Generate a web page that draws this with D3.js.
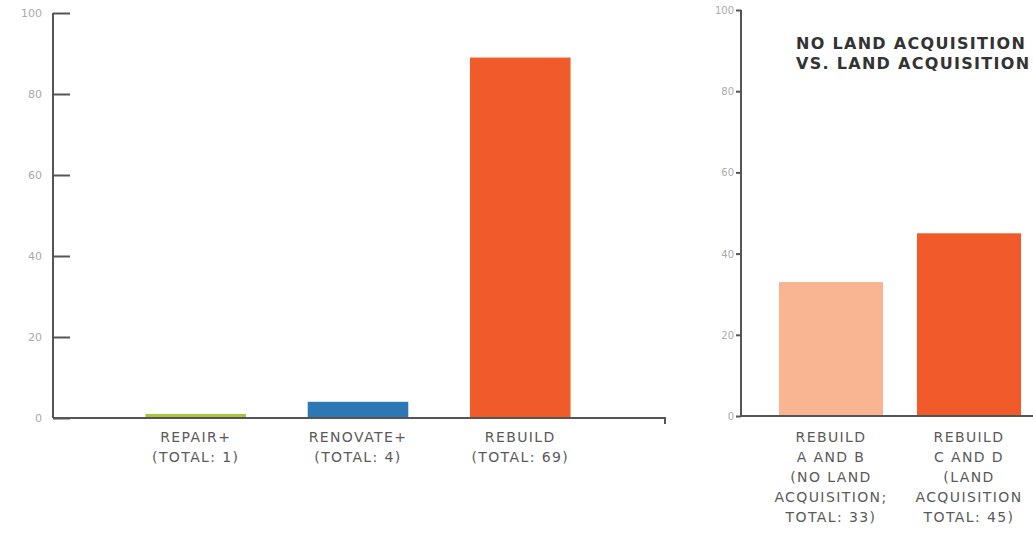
<!DOCTYPE html>
<html><head><meta charset="utf-8">
<script src="https://cdn.jsdelivr.net/npm/d3@7"></script>
<style>
body{margin:0;background:#fff;}
svg{display:block;font-family:"DejaVu Sans",sans-serif;}
</style></head>
<body><svg id="c" width="1033" height="538"></svg>
<script>
const leftCategories = ["REPAIR+|(TOTAL: 1)", "RENOVATE+|(TOTAL: 4)", "REBUILD|(TOTAL: 69)"];
const leftValues = [1, 4, 89];
const leftColors = ["#a8c63c", "#2b78b5", "#f15a29"];
const rightCategories = ["REBUILD|A AND B|(NO LAND|ACQUISITION;|TOTAL: 33)", "REBUILD|C AND D|(LAND|ACQUISITION|TOTAL: 45)"];
const rightValues = [33, 45];
const rightColors = ["#f9b592", "#f15a29"];
const yTicks = [0, 20, 40, 60, 80, 100];
const titleLines = ["NO LAND ACQUISITION", "VS. LAND ACQUISITION"];

const svg = d3.select("#c");
const axisColor = "#555";
const tickLabelColor = "#aaa";
const labelColor = "#5a5a5a";

// LEFT PANEL
const yL = d3.scaleLinear().domain([0, 100]).range([418, 13]);
const xL = d3.scaleBand().domain(leftCategories).range([113, 603]).paddingInner(0.38).paddingOuter(0.2);

const gL = svg.append("g");
gL.selectAll("rect").data(leftValues).join("rect")
  .attr("x", (d, i) => xL(leftCategories[i]))
  .attr("width", xL.bandwidth())
  .attr("y", d => yL(d))
  .attr("height", d => yL(0) - yL(d))
  .attr("fill", (d, i) => leftColors[i]);

const axL = gL.append("g").attr("transform", "translate(53,0)")
  .call(d3.axisRight(yL).tickValues(yTicks).tickSize(17).tickFormat(""));
axL.select(".domain").attr("stroke", axisColor).attr("stroke-width", 2).attr("d", "M0,13V418");
axL.selectAll(".tick line").attr("stroke", axisColor).attr("stroke-width", 2);
gL.selectAll("text.yl").data(yTicks).join("text").attr("class", "yl")
  .attr("x", 42).attr("y", d => yL(d) + 4).attr("text-anchor", "end")
  .attr("font-size", 11).attr("fill", tickLabelColor).text(d => d);

gL.append("path").attr("d", "M53,418H665V424").attr("fill", "none").attr("stroke", axisColor).attr("stroke-width", 2);

leftCategories.forEach((c, i) => {
  const cx = xL(c) + xL.bandwidth() / 2;
  c.split("|").forEach((ln, j) => {
    gL.append("text").attr("x", cx).attr("y", 442 + j * 20).attr("text-anchor", "middle")
      .attr("font-size", 14).attr("letter-spacing", 1.4).attr("fill", labelColor).text(ln);
  });
});

// RIGHT PANEL
const yR = d3.scaleLinear().domain([0, 100]).range([416, 10]);
const xR = d3.scaleBand().domain(rightCategories).range([741, 1059]).paddingInner(0.246).paddingOuter(0.275);
const gR = svg.append("g");
gR.selectAll("rect").data(rightValues).join("rect")
  .attr("x", (d, i) => xR(rightCategories[i]))
  .attr("width", xR.bandwidth())
  .attr("y", d => yR(d))
  .attr("height", d => yR(0) - yR(d))
  .attr("fill", (d, i) => rightColors[i]);

const axR = gR.append("g").attr("transform", "translate(741,0)")
  .call(d3.axisLeft(yR).tickValues(yTicks).tickSize(5).tickFormat(""));
axR.select(".domain").attr("stroke", axisColor).attr("stroke-width", 2).attr("d", "M0,10V416");
axR.selectAll(".tick line").attr("stroke", axisColor).attr("stroke-width", 2);
gR.selectAll("text.yr").data(yTicks).join("text").attr("class", "yr")
  .attr("x", 734).attr("y", d => yR(d) + 4).attr("text-anchor", "end")
  .attr("font-size", 10).attr("fill", tickLabelColor).text(d => d);
gR.append("path").attr("d", "M741,416H1040").attr("fill", "none").attr("stroke", axisColor).attr("stroke-width", 2);

rightCategories.forEach((c, i) => {
  const cx = xR(c) + xR.bandwidth() / 2;
  c.split("|").forEach((ln, j) => {
    gR.append("text").attr("x", cx).attr("y", 442 + j * 20).attr("text-anchor", "middle")
      .attr("font-size", 14).attr("letter-spacing", 1.4).attr("fill", labelColor).text(ln);
  });
});

titleLines.forEach((t, j) => {
  svg.append("text").attr("x", 796).attr("y", 49 + j * 20)
    .attr("font-size", 16).attr("font-weight", "bold").attr("letter-spacing", 1.3)
    .attr("fill", "#333").text(t);
});
</script></body></html>
